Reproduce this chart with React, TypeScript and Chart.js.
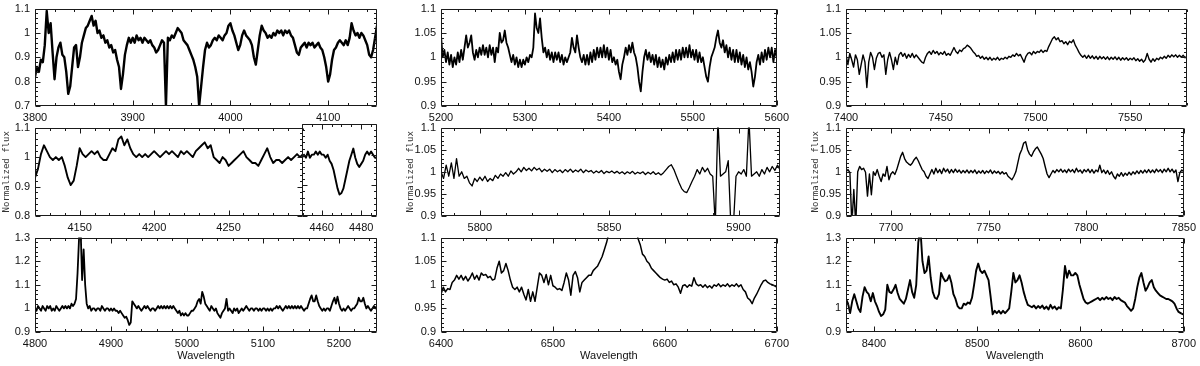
import React, { useEffect, useRef } from 'react';
import { Chart, registerables } from 'chart.js';

Chart.register(...registerables);

// ---------------- data (normalized flux) ----------------
const P1_START = 3800, P1_STEP = 2;
const P1_FLUX = [
  0.82, 0.86, 0.84, 0.89, 0.88, 0.95, 1.09, 1.00, 1.04, 0.92,
  0.81, 0.90, 0.94, 0.96, 0.91, 0.90, 0.84, 0.75, 0.78, 0.86,
  0.94, 0.95, 0.86, 0.90, 0.96, 0.99, 1.02, 1.03, 1.05, 1.07,
  1.03, 1.05, 1.00, 1.01, 0.98, 0.99, 0.96, 0.97, 0.94, 0.95,
  0.92, 0.93, 0.89, 0.86, 0.77, 0.83, 0.91, 0.95, 0.98, 0.96,
  0.98, 0.96, 0.99, 0.97, 0.98, 0.96, 0.98, 0.97, 0.96, 0.97,
  0.95, 0.94, 0.92, 0.93, 0.95, 0.97, 0.96, 0.70, 0.98, 0.97,
  0.99, 0.98, 1.00, 1.02, 1.01, 1.00, 0.97, 0.96, 0.95, 0.93,
  0.91, 0.89, 0.86, 0.82, 0.70, 0.78, 0.86, 0.93, 0.96, 0.94,
  0.95, 0.97, 0.98, 0.97, 0.99, 0.98, 0.97, 0.99, 1.00, 1.03,
  1.04, 1.01, 0.99, 0.96, 0.93, 0.95, 0.99, 1.01, 0.99, 0.98,
  0.97, 0.95, 0.90, 0.87, 0.93, 0.99, 1.03, 1.01, 1.00, 0.98,
  0.99, 0.98, 1.00, 0.99, 1.01, 1.00, 1.01, 0.99, 1.01, 1.00,
  1.01, 0.99, 0.98, 0.95, 0.92, 0.91, 0.94, 0.95, 0.96, 0.94,
  0.96, 0.95, 0.96, 0.94, 0.95, 0.96, 0.94, 0.93, 0.90, 0.86,
  0.80, 0.83, 0.89, 0.93, 0.94, 0.96, 0.97, 0.96, 0.95, 0.97,
  0.95, 0.98, 1.04, 1.01, 0.99, 1.00, 0.98, 1.00, 0.99, 0.97,
  0.95, 0.91, 0.90, 0.93, 0.98, 1.03,
];

const P2A_START = 4120, P2A_STEP = 2;
const P2A_FLUX = [
  0.93, 0.96, 1.01, 1.04, 1.02, 1.00, 0.99, 1.00, 0.99, 1.00,
  0.97, 0.93, 0.905, 0.92, 0.97, 1.03, 1.01, 1.00, 1.01, 1.02,
  1.01, 1.02, 1.00, 0.99, 0.99, 1.01, 1.03, 1.02, 1.06, 1.07,
  1.04, 1.06, 1.03, 1.01, 1.00, 1.01, 1.00, 1.01, 1.00, 1.01,
  1.02, 1.01, 1.00, 1.01, 1.02, 1.01, 1.02, 1.01, 1.00, 1.02,
  1.01, 1.02, 1.01, 1.00, 1.02, 1.03, 1.04, 1.05, 1.03, 1.04,
  1.00, 0.99, 0.98, 1.00, 0.99, 0.97, 0.98, 0.99, 1.00, 1.01,
  1.02, 1.00, 0.99, 0.98, 0.98, 0.97, 0.99, 1.01, 1.03, 1.00,
  0.98, 0.99, 0.99, 0.98, 0.99, 1.00, 0.99, 1.00, 1.01, 1.00,
  1.01,
];

const P2B_START = 4450, P2B_STEP = 1;
const P2B_FLUX = [
  0.99, 1.00, 0.99, 1.01, 0.99, 1.00, 1.00, 1.01, 1.00, 1.01,
  1.00, 1.00, 0.99, 1.00, 0.98, 0.97, 0.95, 0.92, 0.89, 0.87,
  0.875, 0.89, 0.92, 0.95, 0.98, 1.00, 1.02, 0.99, 0.97, 0.96,
  0.97, 0.98, 1.00, 1.01, 1.00, 1.01, 1.00, 0.99, 0.99,
];

const P3_START = 4800, P3_STEP = 2;
const P3_FLUX = [
  1.00, 0.99, 1.01, 1.00, 0.99, 1.01, 1.00, 0.99, 1.01, 1.00,
  1.01, 0.99, 1.00, 0.99, 1.01, 1.00, 0.99, 1.00, 1.01, 1.00,
  1.01, 1.00, 1.01, 1.00, 1.02, 1.01, 1.02, 1.04, 1.15, 1.30,
  1.34, 1.12, 1.25, 1.10, 1.02, 1.00, 1.01, 0.99, 1.00, 1.00,
  0.99, 1.00, 1.00, 0.99, 1.01, 1.00, 0.99, 1.00, 1.00, 0.99,
  1.00, 0.99, 1.00, 0.99, 0.99, 0.98, 0.99, 0.98, 0.97, 0.96,
  0.965, 0.95, 0.93, 0.94, 1.03, 1.02, 1.01, 1.00, 1.01, 1.00,
  0.99, 1.00, 1.01, 1.00, 1.01, 1.00, 0.99, 1.00, 1.00, 0.99,
  1.00, 1.01, 1.00, 1.01, 1.00, 1.01, 1.00, 1.01, 1.00, 1.01,
  1.00, 1.01, 1.00, 0.99, 0.98, 0.99, 0.97, 0.98, 0.97, 0.98,
  0.97, 0.97, 0.98, 0.99, 0.99, 1.00, 1.01, 1.03, 1.04, 1.02,
  1.07, 1.05, 1.02, 1.01, 1.00, 0.99, 1.01, 1.00, 0.99, 1.00,
  0.98, 0.97, 0.96, 0.98, 0.99, 1.00, 1.04, 0.99, 1.00, 0.99,
  0.98, 1.00, 0.99, 1.00, 0.98, 0.99, 1.00, 0.99, 1.00, 1.01,
  1.00, 0.99, 1.00, 1.00, 0.99, 1.00, 1.00, 0.99, 1.00, 0.99,
  1.00, 1.00, 0.99, 1.00, 0.99, 1.00, 0.99, 1.00, 1.00, 1.01,
  1.00, 1.01, 1.00, 0.99, 1.00, 1.01, 1.00, 1.01, 1.00, 1.01,
  1.00, 1.01, 1.00, 1.01, 1.00, 1.01, 1.00, 0.99, 1.00, 1.00,
  1.02, 1.04, 1.055, 1.03, 1.03, 1.055, 1.03, 1.01, 1.00, 0.99,
  1.00, 0.99, 1.00, 1.00, 0.99, 1.01, 1.03, 1.045, 1.02, 1.05,
  1.02, 1.00, 0.99, 1.00, 0.99, 1.00, 1.01, 1.00, 0.99, 1.00,
  1.00, 1.01, 1.02, 1.045, 1.03, 1.03, 1.045, 1.02, 1.00, 1.01,
  1.00, 0.99, 1.00, 1.01, 1.00, 1.01,
];

const P4_START = 5200, P4_STEP = 2;
const P4_FLUX = [
  1.045, 1.00, 1.015, 0.99, 1.01, 0.985, 1.005, 0.98, 1.00, 0.985,
  1.01, 0.99, 1.015, 0.995, 1.02, 1.045, 1.02, 1.03, 1.045, 1.01,
  0.995, 1.015, 1.00, 1.02, 1.005, 1.025, 1.005, 1.02, 1.00, 1.025,
  1.005, 1.02, 0.99, 1.02, 1.01, 1.05, 1.03, 1.035, 1.055, 1.03,
  1.02, 1.005, 0.99, 1.005, 0.985, 1.00, 0.98, 0.995, 0.98, 0.995,
  0.985, 1.00, 0.99, 1.005, 1.00, 1.02, 1.09, 1.06, 1.05, 1.08,
  1.04, 1.01, 1.02, 1.00, 1.015, 0.995, 1.01, 0.99, 1.01, 0.995,
  1.01, 0.99, 1.005, 0.985, 1.00, 0.99, 1.00, 1.01, 1.04, 1.02,
  1.01, 1.045, 1.02, 1.00, 0.99, 1.005, 0.985, 1.005, 0.985, 1.01,
  0.99, 1.015, 0.995, 1.02, 1.00, 1.02, 1.00, 1.025, 1.00, 1.02,
  0.995, 1.015, 0.99, 1.00, 0.985, 0.995, 0.97, 0.955, 0.985, 1.00,
  1.02, 1.005, 1.025, 1.01, 1.03, 1.01, 1.00, 0.98, 0.95, 0.93,
  0.97, 1.00, 1.015, 0.995, 1.01, 0.99, 1.005, 0.985, 1.005, 0.98,
  1.00, 0.98, 0.995, 0.975, 1.00, 0.985, 1.005, 0.99, 1.01, 0.99,
  1.015, 0.995, 1.015, 0.995, 1.02, 1.00, 1.02, 1.00, 1.025, 1.00,
  1.015, 0.995, 1.015, 0.99, 1.01, 0.99, 1.00, 0.98, 0.96, 0.95,
  0.98, 1.00, 1.01, 1.02, 1.04, 1.055, 1.03, 1.02, 1.035, 1.01,
  1.025, 1.00, 1.02, 0.995, 1.015, 0.99, 1.015, 0.99, 1.01, 0.985,
  1.005, 0.98, 1.00, 0.975, 0.99, 0.97, 0.94, 0.96, 0.99, 1.005,
  0.985, 1.01, 0.99, 1.015, 0.995, 1.02, 1.00, 1.02, 0.99, 1.015,
  1.00,
];

const P5_START = 5785, P5_STEP = 1;
const P5_FLUX = [
  1.00, 0.985, 1.015, 0.99, 1.02, 0.985, 1.03, 0.99, 1.00, 0.985,
  0.99, 0.975, 0.968, 0.985, 0.978, 0.988, 0.98, 0.99, 0.978, 0.985,
  0.98, 0.992, 0.985, 0.995, 0.99, 0.998, 0.99, 1.002, 0.995, 1.00,
  1.008, 1.00, 1.01, 1.003, 1.008, 1.002, 1.01, 1.004, 1.008, 1.00,
  1.006, 1.001, 1.006, 0.998, 1.005, 1.00, 1.004, 0.998, 1.005, 1.00,
  1.006, 0.999, 1.004, 1.00, 1.006, 0.998, 1.004, 1.00, 1.003, 0.997,
  1.002, 0.998, 1.003, 0.996, 1.001, 0.998, 1.002, 0.997, 1.001, 0.996,
  1.00, 0.995, 1.00, 0.996, 1.001, 0.995, 0.999, 0.996, 1.00, 0.994,
  0.999, 0.995, 1.00, 0.994, 0.998, 0.993, 0.998, 1.005, 1.012, 1.016,
  1.005, 0.99, 0.975, 0.962, 0.955, 0.953, 0.965, 0.978, 0.99, 1.005,
  0.995, 1.01, 1.00, 1.008, 0.995, 0.99, 0.88, 1.12, 0.99, 0.995,
  1.00, 1.025, 0.88, 0.88, 0.99, 1.00, 0.995, 1.005, 0.99, 1.12,
  0.99, 0.995, 1.00, 0.99, 1.005, 0.995, 1.01, 1.00, 1.012, 1.003,
  1.015, 1.005,
];

const P6_START = 6400, P6_STEP = 2;
const P6_FLUX = [
  0.98, 0.995, 0.985, 0.992, 0.99, 1.005, 1.01, 1.02, 1.012, 1.02,
  1.01, 1.018, 1.008, 1.015, 1.025, 1.012, 1.02, 1.01, 1.025, 1.02,
  1.022, 1.015, 1.018, 1.01, 1.012, 1.035, 1.05, 1.025, 1.03, 1.045,
  1.03, 1.01, 0.995, 0.99, 0.995, 0.985, 0.995, 0.98, 0.968, 0.99,
  0.965, 0.985, 0.965, 0.995, 1.025, 1.02, 1.005, 1.022, 1.00, 1.02,
  0.998, 0.995, 0.99, 0.992, 0.988, 1.005, 1.025, 1.01, 0.978, 1.02,
  1.028, 1.015, 0.985, 1.005, 1.01, 1.015, 1.02, 1.02, 1.03, 1.035,
  1.04, 1.05, 1.06, 1.075, 1.09, 1.11, 1.16, 1.24, 1.35, 1.5,
  1.65, 1.72, 1.7, 1.58, 1.42, 1.28, 1.18, 1.12, 1.098, 1.085,
  1.065, 1.06, 1.05, 1.045, 1.035, 1.03, 1.025, 1.02, 1.015, 1.012,
  1.01, 1.012, 1.005, 1.008, 1.0, 1.002, 0.995, 0.982, 0.998, 1.0,
  0.995, 1.0, 0.997, 1.015, 1.002, 0.998, 1.0, 0.995, 1.0, 0.994,
  0.998, 0.993, 1.0, 0.997, 1.002, 0.996, 1.0, 0.997, 1.002, 0.996,
  1.0, 0.997, 1.002, 0.996, 1.0, 0.99, 0.985, 0.972, 0.968, 0.96,
  0.972, 0.98, 0.99, 1.0, 1.008, 1.01, 1.005, 1.002, 1.0, 0.998,
  0.995,
];

const P7_START = 7400, P7_STEP = 1;
const P7_FLUX = [
  1.005, 0.985, 1.008, 0.995, 0.98, 1.005, 0.995, 0.965, 0.985, 1.005,
  0.99, 0.938, 0.99, 1.01, 1.0, 0.975, 0.998, 1.008, 1.01, 1.0,
  1.005, 0.965, 0.995, 1.01, 0.995, 0.975, 1.0, 0.985, 1.005, 1.01,
  1.002, 1.008, 0.998, 1.006, 1.0, 1.008, 0.999, 1.005, 1.0, 0.995,
  0.99, 0.988, 1.0, 1.008, 1.012, 1.006, 1.014, 1.008, 1.012, 1.005,
  1.01, 1.006, 1.012, 1.004, 1.008, 1.004, 1.012, 1.02, 1.012, 1.008,
  1.015, 1.012, 1.018, 1.02, 1.025, 1.022, 1.018, 1.012, 1.008, 1.002,
  1.004, 0.998, 1.002, 0.996, 1.0, 0.995, 1.0, 0.994, 0.998, 0.995,
  1.0, 0.994, 0.998, 0.996, 1.0, 0.997, 1.002, 1.0, 1.005, 1.002,
  1.008, 1.003, 1.006, 0.998, 0.99, 1.002, 1.008, 1.01, 1.005, 1.012,
  1.008, 1.012, 1.01, 1.015, 1.01, 1.014, 1.012, 1.022, 1.03, 1.038,
  1.042, 1.036, 1.04, 1.032, 1.034, 1.028, 1.032, 1.026, 1.033, 1.03,
  1.036, 1.025, 1.018, 1.01, 1.004, 1.0, 1.004, 0.998, 1.004, 0.998,
  1.003, 0.997, 1.002, 0.996, 1.002, 0.997, 1.001, 0.996, 1.001, 0.995,
  1.0, 0.996, 1.001, 0.995, 1.0, 0.994, 0.999, 0.995, 0.999, 0.994,
  0.998, 0.995, 0.999, 0.993, 0.997, 0.992, 0.996, 0.99, 0.995, 1.008,
  0.996, 0.99, 0.997, 0.992, 0.998, 0.995, 1.0, 0.997, 1.002, 0.998,
  1.004, 1.0, 1.005, 1.001, 1.005, 1.0, 1.004, 1.0, 1.004, 0.999,
  1.002,
];

const P8_START = 7677, P8_STEP = 1;
const P8_FLUX = [
  1.0, 1.005, 0.998, 0.88, 0.96, 0.88, 1.0, 1.012, 1.005, 1.008,
  0.999, 0.945, 0.995, 0.948, 1.0, 0.992, 1.005, 0.99, 0.978, 0.995,
  0.99, 1.012, 0.982, 0.995, 1.0, 0.994, 1.005, 1.02, 1.035, 1.044,
  1.03, 1.022, 1.018, 1.015, 1.02, 1.028, 1.033, 1.025, 1.015, 1.005,
  1.0, 0.99, 0.985, 0.995, 1.005, 0.995, 1.008, 0.998, 1.005, 0.996,
  1.008, 1.0, 1.006, 0.997, 1.005, 0.998, 1.006, 0.999, 1.004, 0.997,
  1.003, 0.998, 1.004, 0.997, 1.003, 0.998, 1.004, 0.996, 1.002, 0.997,
  1.003, 0.996, 1.002, 0.998, 1.004, 0.996, 1.002, 0.997, 1.001, 0.995,
  1.0, 0.995, 0.998, 0.99, 0.986, 0.982, 0.99, 1.0, 1.02, 1.04,
  1.05, 1.065, 1.068, 1.05, 1.04, 1.035, 1.045, 1.052, 1.056, 1.048,
  1.04, 1.03, 1.012, 0.995, 0.987, 0.995, 1.003, 0.998, 1.005, 1.0,
  1.006, 0.999, 1.004, 0.998, 1.006, 1.0, 1.005, 0.998, 1.008, 1.0,
  1.004, 0.997, 1.005, 1.0, 1.006, 0.998, 1.005, 0.997, 1.004, 1.0,
  1.015, 0.998, 1.004, 0.996, 1.003, 0.994, 1.0, 0.99, 0.984, 0.995,
  0.99, 0.998, 0.99, 0.997, 0.992, 0.999, 0.993, 1.0, 0.995, 1.002,
  0.996, 1.003, 0.997, 1.004, 0.998, 1.005, 0.998, 1.004, 0.998, 1.006,
  1.0, 1.005, 0.998, 1.006, 1.0, 1.008, 1.0, 1.006, 0.998, 1.004,
  0.978, 0.998, 1.004, 1.0,
];

const P9_START = 8373, P9_STEP = 2;
const P9_FLUX = [
  1.04, 1.02, 0.98, 1.03, 1.06, 1.03, 1.0, 0.985, 1.05, 1.09,
  1.07, 1.06, 1.03, 1.065, 1.03, 1.01, 0.985, 0.968, 0.975, 0.995,
  1.1, 1.07, 1.065, 1.08, 1.1, 1.065, 1.04, 1.03, 1.02, 1.04,
  1.08, 1.12, 1.07, 1.045, 1.1, 1.28, 1.34, 1.2, 1.15, 1.16,
  1.22, 1.13, 1.07, 1.045, 1.04, 1.06, 1.15, 1.13, 1.115, 1.12,
  1.14, 1.11, 1.06, 1.04, 1.01, 1.0, 1.0, 1.02, 1.015, 1.025,
  1.02, 1.045, 1.1, 1.16, 1.19, 1.16, 1.15, 1.16, 1.14, 1.12,
  1.05, 0.975, 0.99, 0.98, 0.99, 0.978, 0.99, 0.98, 0.99, 1.0,
  1.07, 1.15, 1.11, 1.12, 1.14, 1.11, 1.07, 1.04, 1.015, 1.01,
  1.005, 1.012, 1.0, 1.01, 1.002, 1.012, 0.998, 1.008, 0.995, 1.015,
  1.0, 1.008, 0.995, 1.005, 1.0, 1.08, 1.18, 1.13, 1.16, 1.14,
  1.14, 1.15, 1.14, 1.1, 1.07, 1.04, 1.025, 1.02, 1.025, 1.03,
  1.035, 1.04, 1.045, 1.035, 1.045, 1.038, 1.048, 1.04, 1.045, 1.035,
  1.048, 1.04, 1.045, 1.035, 1.03, 1.025, 1.01, 1.0, 0.99, 1.0,
  1.04, 1.09, 1.13, 1.15, 1.11, 1.075, 1.09, 1.11, 1.12, 1.09,
  1.075, 1.065, 1.055, 1.05, 1.045, 1.04, 1.04, 1.035, 1.03, 1.02,
  1.0, 0.985, 0.98, 0.975, 0.975,
];

// tick labels
const P1_XTICKS = [3800, 3900, 4000, 4100];
const P2A_XTICKS = [4150, 4200, 4250];
const P2B_XTICKS = [4460, 4480];
const P3_XTICKS = [4800, 4900, 5000, 5100, 5200];
const P4_XTICKS = [5200, 5300, 5400, 5500, 5600];
const P5_XTICKS = [5800, 5850, 5900];
const P6_XTICKS = [6400, 6500, 6600, 6700];
const P7_XTICKS = [7400, 7450, 7500, 7550];
const P8_XTICKS = [7700, 7750, 7800, 7850];
const P9_XTICKS = [8400, 8500, 8600, 8700];
const Y_TICKS_07_11 = [0.7, 0.8, 0.9, 1, 1.1];
const Y_TICKS_08_11 = [0.8, 0.9, 1, 1.1];
const Y_TICKS_09_13 = [0.9, 1, 1.1, 1.2, 1.3];
const Y_TICKS_09_11 = [0.9, 0.95, 1, 1.05, 1.1];

const X_TITLE = 'Wavelength';
const Y_TITLE = 'Normalized flux';

// ---------------- styling / layout ----------------
const TICK_FONT = { family: "'Liberation Sans Narrow', 'Liberation Sans', Arial, sans-serif", size: 11, lineHeight: 1.2 };
const MONO_FONT = { family: "'DejaVu Sans Mono', 'Liberation Mono', monospace", size: 9, lineHeight: 1 };
const PAD_T = 8;
const PAD_R = 14;

type Panel = {
  id: string;
  start: number; step: number; flux: number[];
  xmin: number; xmax: number; ymin: number; ymax: number;
  xTicks: number[]; yTicks: number[]; xMinor: number; yMinor: number;
  L: number; T: number; R: number; B: number;
  yw: number; xh: number; lw: number;
  yLabels: boolean; xTitle?: boolean; yTitlePad?: number;
};

const PANELS: Panel[] = [
  { id: 'p1', start: P1_START, step: P1_STEP, flux: P1_FLUX, xmin: 3800, xmax: 4150, ymin: 0.7, ymax: 1.1,
    xTicks: P1_XTICKS, yTicks: Y_TICKS_07_11, xMinor: 20, yMinor: 0.02, L: 35, T: 5, R: 377, B: 106, yw: 35, xh: 18, lw: 2.4, yLabels: true },
  { id: 'p2a', start: P2A_START, step: P2A_STEP, flux: P2A_FLUX, xmin: 4120, xmax: 4300, ymin: 0.8, ymax: 1.1,
    xTicks: P2A_XTICKS, yTicks: Y_TICKS_08_11, xMinor: 10, yMinor: 0.02, L: 35, T: 124, R: 303, B: 216, yw: 35, xh: 18, lw: 1.9, yLabels: true, yTitlePad: 2.5 },
  { id: 'p2b', start: P2B_START, step: P2B_STEP, flux: P2B_FLUX, xmin: 4450, xmax: 4488, ymin: 0.8, ymax: 1.1,
    xTicks: P2B_XTICKS, yTicks: Y_TICKS_08_11, xMinor: 5, yMinor: 0.02, L: 302, T: 124, R: 377, B: 216, yw: 0, xh: 18, lw: 1.9, yLabels: false },
  { id: 'p3', start: P3_START, step: P3_STEP, flux: P3_FLUX, xmin: 4800, xmax: 5250, ymin: 0.9, ymax: 1.3,
    xTicks: P3_XTICKS, yTicks: Y_TICKS_09_13, xMinor: 20, yMinor: 0.02, L: 35, T: 234, R: 377, B: 332, yw: 35, xh: 34, lw: 1.8, yLabels: true, xTitle: true },
  { id: 'p4', start: P4_START, step: P4_STEP, flux: P4_FLUX, xmin: 5200, xmax: 5600, ymin: 0.9, ymax: 1.1,
    xTicks: P4_XTICKS, yTicks: Y_TICKS_09_11, xMinor: 20, yMinor: 0.01, L: 441, T: 5, R: 780, B: 106, yw: 40, xh: 18, lw: 1.8, yLabels: true },
  { id: 'p5', start: P5_START, step: P5_STEP, flux: P5_FLUX, xmin: 5785, xmax: 5916, ymin: 0.9, ymax: 1.1,
    xTicks: P5_XTICKS, yTicks: Y_TICKS_09_11, xMinor: 10, yMinor: 0.01, L: 441, T: 124, R: 780, B: 216, yw: 40, xh: 18, lw: 1.3, yLabels: true, yTitlePad: 5.5 },
  { id: 'p6', start: P6_START, step: P6_STEP, flux: P6_FLUX, xmin: 6400, xmax: 6700, ymin: 0.9, ymax: 1.1,
    xTicks: P6_XTICKS, yTicks: Y_TICKS_09_11, xMinor: 20, yMinor: 0.01, L: 441, T: 234, R: 780, B: 332, yw: 40, xh: 34, lw: 1.5, yLabels: true, xTitle: true },
  { id: 'p7', start: P7_START, step: P7_STEP, flux: P7_FLUX, xmin: 7400, xmax: 7580, ymin: 0.9, ymax: 1.1,
    xTicks: P7_XTICKS, yTicks: Y_TICKS_09_11, xMinor: 10, yMinor: 0.01, L: 846, T: 5, R: 1187, B: 106, yw: 40, xh: 18, lw: 1.4, yLabels: true },
  { id: 'p8', start: P8_START, step: P8_STEP, flux: P8_FLUX, xmin: 7677, xmax: 7850, ymin: 0.9, ymax: 1.1,
    xTicks: P8_XTICKS, yTicks: Y_TICKS_09_11, xMinor: 10, yMinor: 0.01, L: 846, T: 124, R: 1187, B: 216, yw: 40, xh: 18, lw: 1.4, yLabels: true, yTitlePad: 5.5 },
  { id: 'p9', start: P9_START, step: P9_STEP, flux: P9_FLUX, xmin: 8373, xmax: 8700, ymin: 0.9, ymax: 1.3,
    xTicks: P9_XTICKS, yTicks: Y_TICKS_09_13, xMinor: 20, yMinor: 0.02, L: 846, T: 234, R: 1187, B: 332, yw: 40, xh: 34, lw: 1.9, yLabels: true, xTitle: true },
];

const fmt = (v: number) => String(Math.round(v * 1000) / 1000);

// frame with inward major/minor ticks on all four sides
const frameTicks = {
  id: 'frameTicks',
  afterDatasetsDraw(chart: any, _args: any, opts: any) {
    const { ctx, chartArea: a, scales } = chart;
    const xs = scales.x, ys = scales.y;
    const l = Math.round(a.left) + 0.5, r = Math.round(a.right) - 0.5;
    const t = Math.round(a.top) + 0.5, b = Math.round(a.bottom) - 0.5;
    const MAJ = 5, MIN = 2.5;
    const isMajor = (v: number, arr: number[]) => arr.some((m) => Math.abs(m - v) < 1e-6);
    ctx.save();
    ctx.strokeStyle = '#1a1a1a';
    ctx.lineWidth = 1;
    ctx.beginPath();
    ctx.rect(l, t, r - l, b - t);
    const k0 = Math.ceil(xs.min / opts.xMinor - 1e-6), k1 = Math.floor(xs.max / opts.xMinor + 1e-6);
    for (let k = k0; k <= k1; k++) {
      const v = k * opts.xMinor;
      const px = Math.round(xs.getPixelForValue(v)) + 0.5;
      const len = isMajor(v, opts.xMajor) ? MAJ : MIN;
      ctx.moveTo(px, b); ctx.lineTo(px, b - len);
      ctx.moveTo(px, t); ctx.lineTo(px, t + len);
    }
    const j0 = Math.ceil(ys.min / opts.yMinor - 1e-6), j1 = Math.floor(ys.max / opts.yMinor + 1e-6);
    for (let j = j0; j <= j1; j++) {
      const v = j * opts.yMinor;
      const py = Math.round(ys.getPixelForValue(v)) + 0.5;
      const len = isMajor(v, opts.yMajor) ? MAJ : MIN;
      ctx.moveTo(l, py); ctx.lineTo(l + len, py);
      ctx.moveTo(r, py); ctx.lineTo(r - len, py);
    }
    ctx.stroke();
    ctx.restore();
  },
};

function geom(p: Panel) {
  return {
    left: p.L - p.yw,
    top: p.T - PAD_T,
    w: p.yw + (p.R - p.L) + PAD_R,
    h: PAD_T + (p.B - p.T) + p.xh,
  };
}

function makeChart(canvas: HTMLCanvasElement, p: Panel) {
  const points = p.flux.map((f, i) => ({ x: p.start + i * p.step, y: f }));
  return new Chart(canvas, {
    type: 'line',
    data: {
      datasets: [{
        data: points,
        borderColor: '#000',
        borderWidth: p.lw,
        borderJoinStyle: 'round',
        pointRadius: 0,
        tension: 0,
        fill: false,
        clip: 0,
      } as any],
    },
    options: {
      animation: false,
      responsive: false,
      maintainAspectRatio: false,
      events: [],
      layout: { padding: { top: PAD_T, right: PAD_R, left: 0, bottom: 0 } },
      plugins: {
        legend: { display: false },
        tooltip: { enabled: false },
        frameTicks: { xMinor: p.xMinor, yMinor: p.yMinor, xMajor: p.xTicks, yMajor: p.yTicks },
      } as any,
      scales: {
        x: {
          type: 'linear', min: p.xmin, max: p.xmax,
          grid: { display: false, drawTicks: false }, border: { display: false },
          ticks: { padding: 5, font: TICK_FONT, color: '#111', maxRotation: 0, autoSkip: false, callback: (v: any) => fmt(Number(v)) },
          afterBuildTicks: (s: any) => { s.ticks = p.xTicks.map((v) => ({ value: v })); },
          afterFit: (s: any) => { s.height = p.xh; },
          title: { display: !!p.xTitle, text: X_TITLE, font: TICK_FONT, color: '#111', padding: { top: 0, bottom: 3 } },
        },
        y: {
          type: 'linear', min: p.ymin, max: p.ymax,
          grid: { display: false, drawTicks: false }, border: { display: false },
          ticks: { display: p.yLabels, padding: 5, font: TICK_FONT, color: '#111', autoSkip: false, callback: (v: any) => fmt(Number(v)) },
          afterBuildTicks: (s: any) => { s.ticks = p.yTicks.map((v) => ({ value: v })); },
          afterFit: (s: any) => { s.width = p.yw; },
          title: { display: p.yTitlePad !== undefined, text: Y_TITLE, font: MONO_FONT, color: '#333', padding: { top: p.yTitlePad ?? 0, bottom: 0 } },
        },
      } as any,
    },
    plugins: [frameTicks as any],
  });
}

export default function App() {
  const refs = useRef<(HTMLCanvasElement | null)[]>([]);
  useEffect(() => {
    const charts = PANELS.map((p, i) => makeChart(refs.current[i] as HTMLCanvasElement, p));
    return () => { charts.forEach((c) => c.destroy()); };
  }, []);
  return (
    <div style={{ position: 'fixed', left: 0, top: 0, width: 1200, height: 366, background: '#fff', overflow: 'hidden' }}>
      {PANELS.map((p, i) => {
        const g = geom(p);
        return (
          <canvas
            key={p.id}
            ref={(el) => { refs.current[i] = el; }}
            width={g.w}
            height={g.h}
            style={{ position: 'absolute', left: g.left, top: g.top, width: g.w, height: g.h }}
          />
        );
      })}
    </div>
  );
}
